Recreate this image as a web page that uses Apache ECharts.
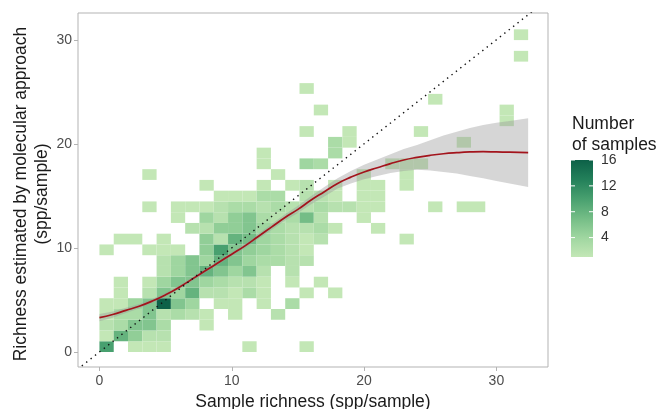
<!DOCTYPE html>
<html><head><meta charset="utf-8">
<script src="https://cdn.jsdelivr.net/npm/echarts@6/dist/echarts.min.js"></script>
<style>html,body{margin:0;padding:0;background:#fff}#c{width:657px;height:409px}</style>
</head><body><div id="c"></div>
<script>
// ---------- data ----------
const xTicks = [0, 10, 20, 30];
const yTicks = [0, 10, 20, 30];
const legendTicks = [4, 8, 12, 16];
const countMin = 1, countMax = 16;
const xBinWidth = 1.08, yBinWidth = 31 / 30;
// [xBin, yBin, number of samples]
const binCells = [
  [0,0,10],[2,0,1],[3,0,1],[4,0,1],[10,0,1],[14,0,1],
  [0,1,1],[1,1,8],[2,1,5],[3,1,2],[4,1,2],
  [0,2,2],[1,2,3],[2,2,6],[3,2,6],[4,2,3],[7,2,1],
  [0,3,1],[1,3,3],[2,3,3],[3,3,6],[4,3,2],[5,3,3],[6,3,2],[7,3,1],[9,3,1],[12,3,2],
  [0,4,1],[1,4,1],[2,4,4],[3,4,6],[4,4,16],[5,4,6],[6,4,4],[8,4,1],[9,4,1],[11,4,1],[13,4,3],
  [1,5,1],[3,5,2],[4,5,6],[5,5,4],[6,5,8],[7,5,2],[8,5,2],[9,5,1],[10,5,3],[11,5,1],[14,5,1],[16,5,1],
  [1,6,1],[3,6,1],[4,6,4],[5,6,6],[6,6,6],[7,6,4],[8,6,3],[9,6,2],[10,6,2],[11,6,1],[13,6,1],[15,6,1],
  [4,7,2],[5,7,4],[6,7,6],[7,7,8],[8,7,6],[9,7,4],[10,7,6],[11,7,2],[13,7,2],
  [4,8,2],[5,8,4],[6,8,6],[7,8,4],[8,8,8],[9,8,6],[10,8,4],[11,8,3],[12,8,3],[13,8,2],[14,8,2],
  [0,9,1],[3,9,1],[4,9,1],[5,9,1],[7,9,5],[8,9,10],[9,9,6],[10,9,5],[11,9,4],[12,9,3],[13,9,2],[14,9,1],
  [1,10,1],[2,10,1],[4,10,1],[7,10,5],[8,10,2],[9,10,8],[10,10,7],[11,10,4],[12,10,3],[13,10,2],[14,10,1],[15,10,2],[21,10,1],
  [6,11,2],[7,11,2],[8,11,5],[9,11,5],[10,11,6],[11,11,4],[12,11,3],[13,11,2],[14,11,2],[15,11,3],[16,11,1],[19,11,1],
  [5,12,1],[7,12,4],[8,12,2],[9,12,5],[10,12,6],[11,12,3],[12,12,2],[13,12,3],[14,12,7],[15,12,2],[18,12,1],
  [3,13,1],[5,13,1],[6,13,1],[7,13,1],[8,13,2],[9,13,3],[10,13,3],[11,13,2],[12,13,3],[13,13,2],[14,13,2],[15,13,3],[16,13,2],[17,13,2],[18,13,1],[19,13,1],[23,13,1],[25,13,1],[26,13,1],
  [8,14,1],[9,14,1],[10,14,1],[11,14,3],[12,14,3],[14,14,2],[15,14,2],[16,14,1],[18,14,1],[19,14,1],
  [7,15,1],[11,15,1],[13,15,1],[14,15,2],[16,15,1],[18,15,1],[19,15,1],[21,15,1],
  [3,16,1],[12,16,1],[18,16,1],[21,16,1],
  [11,17,1],[14,17,4],[15,17,3],[20,17,1],[21,17,1],[22,17,1],
  [11,18,1],[16,18,3],
  [16,19,3],[17,19,1],[25,19,1],
  [14,20,1],[17,20,1],[22,20,1],
  [28,21,1],
  [15,22,1],[28,22,1],
  [23,23,1],
  [14,24,1],
  [29,27,1],
  [29,29,1]
];
// smooth fit and its confidence band
const smoothX  = [0,1,2,3,4,5,6,7,8,9,10,11,12,13,14,15,16,17,18,19,20,21,22,23,24,25,26,27,28,29,30,31,32.4];
const smoothY  = [3.3,3.6,4.0,4.4,4.9,5.5,6.2,7.0,7.8,8.6,9.4,10.2,11.1,12.0,12.9,13.7,14.6,15.4,16.2,16.8,17.3,17.7,18.1,18.45,18.7,18.9,19.05,19.15,19.22,19.25,19.22,19.2,19.15];
const seHalf   = [0.35,0.3,0.25,0.22,0.2,0.2,0.2,0.2,0.2,0.2,0.2,0.22,0.25,0.28,0.3,0.35,0.4,0.45,0.5,0.6,0.7,0.8,0.9,1.05,1.2,1.45,1.75,2.0,2.3,2.55,2.8,3.0,3.3];
const identityRange = [-2, 34];

// ---------- chart ----------
const FONT = 'Liberation Sans, Arial, Helvetica, sans-serif';
const colorStops = ['#c3e7b6', '#9fd6a0', '#74bd86', '#48a06f', '#23805a', '#0d6148'];
const chart = echarts.init(document.getElementById('c'), null, {renderer: 'canvas'});

const bandData = smoothX.map((x, k) => [x, smoothY[k] - seHalf[k], smoothY[k] + seHalf[k]]);

const barX = 571, barTop = 160, barW = 22, barH = 97;
const valToBarY = v => barTop + barH - (v - countMin) / (countMax - countMin) * barH;

const graphics = [];
graphics.push({
  type: 'text', x: 32, y: 194, rotation: Math.PI / 2,
  style: {text: 'Richness estimated by molecular approach\n(spp/sample)', font: '17.5px ' + FONT,
    fill: '#1a1a1a', align: 'center', verticalAlign: 'middle', lineHeight: 21}
});
graphics.push({type: 'text', x: 572, y: 124, style: {text: 'Number', font: '17.5px ' + FONT, fill: '#1a1a1a', align: 'left', verticalAlign: 'middle'}});
graphics.push({type: 'text', x: 572, y: 145, style: {text: 'of samples', font: '17.5px ' + FONT, fill: '#1a1a1a', align: 'left', verticalAlign: 'middle'}});
graphics.push({
  type: 'rect', shape: {x: barX, y: barTop, width: barW, height: barH},
  style: {fill: new echarts.graphic.LinearGradient(0, 1, 0, 0,
    colorStops.map((c, k) => ({offset: k / (colorStops.length - 1), color: c})))}
});
legendTicks.forEach(v => {
  const y = valToBarY(v);
  graphics.push({type: 'line', shape: {x1: barX, y1: y, x2: barX + 4, y2: y}, style: {stroke: '#fff', lineWidth: 1}});
  graphics.push({type: 'line', shape: {x1: barX + barW - 4, y1: y, x2: barX + barW, y2: y}, style: {stroke: '#fff', lineWidth: 1}});
  graphics.push({type: 'text', x: 601, y: y, style: {text: String(v), font: '14px ' + FONT, fill: '#333', align: 'left', verticalAlign: 'middle'}});
});

const axisCommon = {
  type: 'value',
  axisLine: {show: false, onZero: false},
  axisTick: {show: true, length: 4, lineStyle: {color: '#b3b3b3', width: 1}},
  axisLabel: {color: '#4d4d4d', fontSize: 14, fontFamily: FONT},
  splitLine: {show: false}
};

chart.setOption({
  animation: false,
  backgroundColor: '#fff',
  grid: {left: 78, top: 13, right: 109, bottom: 42, show: true, borderColor: '#b3b3b3', borderWidth: 1,
    containLabel: false, outerBoundsMode: 'none'},
  xAxis: Object.assign({}, axisCommon, {
    min: -1.62, max: 33.9,
    axisTick: Object.assign({}, axisCommon.axisTick, {customValues: xTicks}),
    axisLabel: Object.assign({}, axisCommon.axisLabel, {customValues: xTicks, margin: 7}),
    name: 'Sample richness (spp/sample)', nameLocation: 'middle', nameGap: 22,
    nameTextStyle: {fontSize: 17.5, color: '#1a1a1a', fontFamily: FONT}
  }),
  yAxis: Object.assign({}, axisCommon, {
    min: -1.44, max: 32.57,
    axisTick: Object.assign({}, axisCommon.axisTick, {customValues: yTicks}),
    axisLabel: Object.assign({}, axisCommon.axisLabel, {customValues: yTicks, margin: 6})
  }),
  visualMap: {show: false, type: 'continuous', min: countMin, max: countMax, dimension: 2, seriesIndex: 0,
    inRange: {color: colorStops}},
  graphic: graphics,
  series: [
    {
      type: 'custom', name: 'bins', data: binCells, encode: {x: 0, y: 1},
      renderItem: function (params, api) {
        const i = api.value(0), j = api.value(1);
        const p0 = api.coord([i * xBinWidth, j * yBinWidth]);
        const p1 = api.coord([(i + 1) * xBinWidth, (j + 1) * yBinWidth]);
        return {type: 'rect', shape: {x: p0[0], y: p1[1], width: p1[0] - p0[0], height: p0[1] - p1[1]},
          style: {fill: api.visual('color')}};
      },
      z: 1
    },
    {
      type: 'custom', name: 'se', data: bandData, encode: {x: 0, y: 1}, silent: true,
      renderItem: function (params, api) {
        if (params.dataIndex !== 0) return null;
        const up = bandData.map(d => api.coord([d[0], d[2]]));
        const lo = bandData.map(d => api.coord([d[0], d[1]])).reverse();
        return {type: 'polygon', shape: {points: up.concat(lo)}, style: {fill: 'rgba(153,153,153,0.4)'}};
      },
      z: 2
    },
    {
      type: 'line', name: 'fit', data: smoothX.map((x, k) => [x, smoothY[k]]), smooth: true,
      symbol: 'none', lineStyle: {color: '#a3141c', width: 1.7}, z: 3
    },
    {
      type: 'line', name: 'identity', data: identityRange.map(v => [v, v]), symbol: 'none',
      lineStyle: {color: '#111', width: 1.4, type: [1.4, 4.2]}, z: 4, clip: true
    }
  ]
});
</script></body></html>
